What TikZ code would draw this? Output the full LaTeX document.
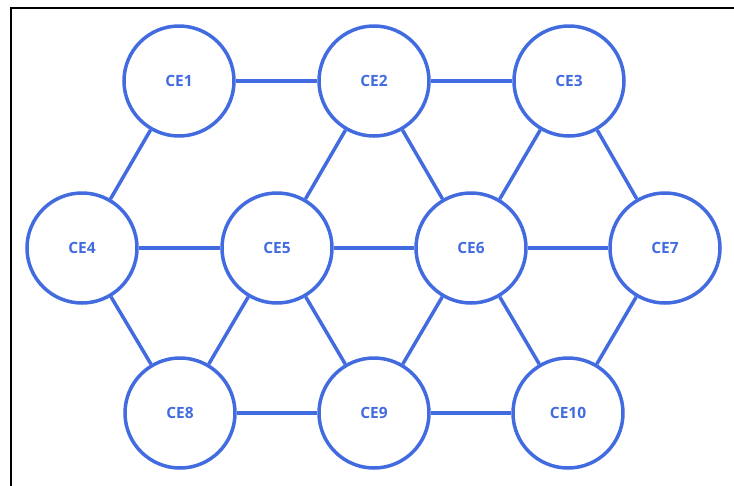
\documentclass[tikz,border=0pt]{standalone}
\usepackage{fontspec}
\setmainfont{Open Sans}
\usepackage{tikz}
\definecolor{ceblue}{RGB}{66,107,224}

\begin{document}
\begin{tikzpicture}[x=1pt,y=-1pt,
  ce/.style={circle, draw=ceblue, line width=3.5pt, minimum size=110pt, inner sep=0pt,
    text=ceblue, font=\fontsize{15.5}{18}\selectfont\bfseries},
  link/.style={draw=ceblue, line width=3.5pt}]
\useasboundingbox (0,0) rectangle (734,485);
\draw [line width=2pt] (11,490) -- (11,8) -- (740,8);

\node [ce] (ce1) at (179,81) {CE1};
\node [ce] (ce2) at (374,81) {CE2};
\node [ce] (ce3) at (569,81) {CE3};

\node [ce] (ce4) at (82,248) {CE4};
\node [ce] (ce5) at (277,248) {CE5};
\node [ce] (ce6) at (471,248) {CE6};
\node [ce] (ce7) at (665,248) {CE7};

\node [ce] (ce8) at (180,413) {CE8};
\node [ce] (ce9) at (374,413) {CE9};
\node [ce] (ce10) at (568,413) {CE10};

%
\draw [link] (ce1) -- (ce2);
\draw [link] (ce2) -- (ce3);
\draw [link] (ce1) -- (ce4);
\draw [link] (ce2) -- (ce5);
\draw [link] (ce2) -- (ce6);
\draw [link] (ce3) -- (ce6);
\draw [link] (ce3) -- (ce7);
\draw [link] (ce4) -- (ce5);
\draw [link] (ce5) -- (ce6);
\draw [link] (ce6) -- (ce7);
\draw [link] (ce4) -- (ce8);
\draw [link] (ce5) -- (ce8);
\draw [link] (ce5) -- (ce9);
\draw [link] (ce6) -- (ce9);
\draw [link] (ce6) -- (ce10);
\draw [link] (ce7) -- (ce10);
\draw [link] (ce8) -- (ce9);
\draw [link] (ce9) -- (ce10);
\end{tikzpicture}
\end{document}
